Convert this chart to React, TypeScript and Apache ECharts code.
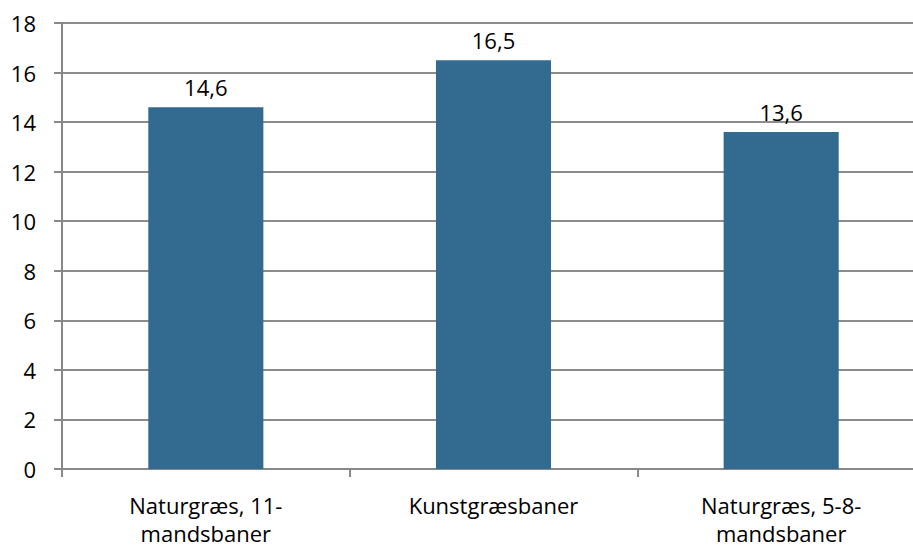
import React, { useEffect, useRef } from "react";
import * as echarts from "echarts";

const categories = ["Naturgræs, 11-\nmandsbaner", "Kunstgræsbaner", "Naturgræs, 5-8-\nmandsbaner"];
const values = [14.6, 16.5, 13.6];

export default function App() {
  const ref = useRef<HTMLDivElement>(null);
  useEffect(() => {
    document.body.style.margin = "0";
    document.body.style.overflow = "hidden";
    const chart = echarts.init(ref.current!, null, { renderer: "svg" });
    const font = "'Open Sans', sans-serif";
    chart.setOption({
      animation: false,
      backgroundColor: "#ffffff",
      grid: { left: 62, right: 0, top: 23, bottom: 76 },
      xAxis: {
        type: "category",
        data: categories,
        axisLine: { lineStyle: { color: "#888888", width: 2 } },
        axisTick: { show: true, length: 8, lineStyle: { color: "#888888", width: 2 } },
        axisLabel: { color: "#000000", fontSize: 22, fontFamily: font, margin: 22, lineHeight: 28 },
      },
      yAxis: {
        type: "value",
        min: 0,
        max: 18,
        interval: 2,
        axisLine: { show: true, lineStyle: { color: "#888888", width: 2 } },
        axisTick: { show: true, length: 8, lineStyle: { color: "#888888", width: 2 } },
        axisLabel: { color: "#000000", fontSize: 22, fontFamily: font, margin: 26 },
        splitLine: { lineStyle: { color: "#8c8c8c", width: 2 } },
      },
      series: [
        {
          type: "bar",
          data: values,
          barWidth: "40%",
          itemStyle: { color: "#336a8f" },
          label: {
            show: true,
            position: "top",
            distance: 9,
            color: "#000000",
            fontSize: 22,
            fontFamily: font,
            formatter: (p: any) => String(p.value).replace(".", ","),
          },
        },
      ],
    });
    return () => chart.dispose();
  }, []);
  return <div ref={ref} style={{ position: "fixed", left: 0, top: 0, width: 925, height: 547 }} />;
}
